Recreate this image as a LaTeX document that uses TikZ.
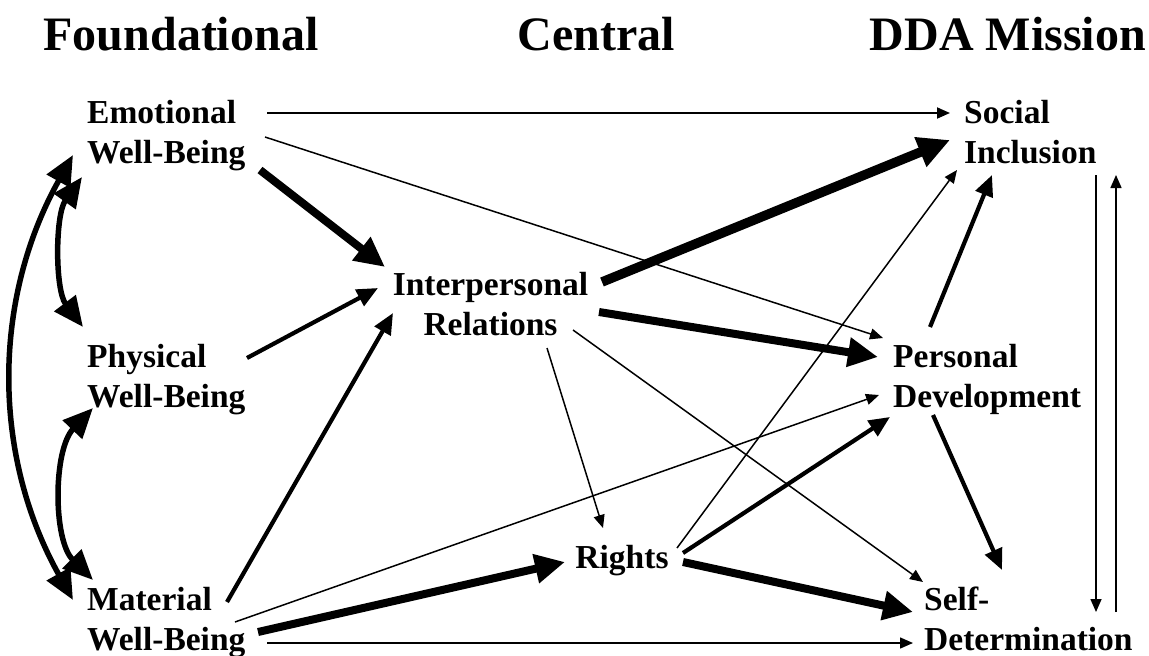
\documentclass[tikz,border=0pt]{standalone}
\usepackage{fontspec}
\setmainfont{Liberation Serif}
\usetikzlibrary{arrows.meta}
\begin{document}
\begin{tikzpicture}[x=1pt,y=-1pt,
  lbl/.style={inner sep=0pt, align=left, font=\bfseries\fontsize{33.5}{40}\selectfont},
  ttl/.style={inner sep=0pt, anchor=base, font=\bfseries\fontsize{48}{56}\selectfont},
  athin/.style={line width=1.5pt, -{Triangle[length=13pt,width=11pt]}},
  amed/.style={line width=4.2pt, -{Triangle[length=21pt,width=18pt]}},
  athick/.style={line width=8pt, -{Triangle[length=30pt,width=28pt]}},
  axthick/.style={line width=9.5pt, -{Triangle[length=32pt,width=30pt]}},
  acurve/.style={line width=5.5pt, {Triangle[length=30pt,width=26pt]}-{Triangle[length=30pt,width=26pt]}}]
\fill[white] (0,0) rectangle (1149,656);
\useasboundingbox (0,0) rectangle (1149,656);

% titles
\node[ttl] (t1) at (181,50) {Foundational};
\node[ttl] (t2) at (596,50) {Central};
\node[ttl] (t3) at (1008,50) {DDA Mission};

% nodes
\node[lbl, anchor=west] (emo) at (87,135) {\strut Emotional\\\strut Well-Being};
\node[lbl, anchor=west] (phy) at (87,379) {\strut Physical\\\strut Well-Being};
\node[lbl, anchor=west] (mat) at (87,622) {\strut Material\\\strut Well-Being};
\node[lbl, align=center] (inter) at (490.5,307) {\strut Interpersonal\\\strut Relations};
\node[lbl] (rig) at (622,560) {\strut Rights};
\node[lbl, anchor=west] (soc) at (964,135) {\strut Social\\\strut Inclusion};
\node[lbl, anchor=west] (per) at (893,379) {\strut Personal\\\strut Development};
\node[lbl, anchor=west] (sel) at (924,622) {\strut Self-\\\strut Determination};

% connectors from Emotional Well-Being
\draw[athin, line width=1.8pt] ([shift={(180,-22)}]emo.west) -- ([shift={(-14,-22)}]soc.west);
\draw[athin] ([shift={(178,2)}]emo.west) -- ([shift={(-10,-41)}]per.west);
\draw[athick] ([shift={(173,35)}]emo.west) -- ([shift={(-105.5,-40)}]inter.center);

% Physical / Material to Interpersonal
\draw[amed] ([shift={(160,-21)}]phy.west) -- ([shift={(-112.5,-19)}]inter.center);
\draw[amed] ([shift={(140,-20)}]mat.west) -- ([shift={(-97.5,6)}]inter.center);

% from Interpersonal Relations
\draw[axthick] ([shift={(111.5,-25)}]inter.center) -- ([shift={(-14,5)}]soc.west);
\draw[athick] ([shift={(108.5,5)}]inter.center) -- ([shift={(-15,-22)}]per.west);
\draw[athin] ([shift={(82.5,23)}]inter.center) -- ([shift={(-1,-40)}]sel.west);
\draw[athin] ([shift={(56.5,41)}]inter.center) -- ([shift={(-19,-32)}]rig.center);

% from Rights
\draw[athin] ([shift={(55,-12)}]rig.center) -- ([shift={(-7,35)}]soc.west);
\draw[amed] ([shift={(61,-7)}]rig.center) -- ([shift={(-3,38)}]per.west);
\draw[athick] ([shift={(61,2)}]rig.center) -- ([shift={(-11,-10)}]sel.west);

% from Material Well-Being
\draw[athick] ([shift={(171,10)}]mat.west) -- ([shift={(-57,2)}]rig.center);
\draw[athin] ([shift={(148,0)}]mat.west) -- ([shift={(-14,16)}]per.west);
\draw[athin] ([shift={(180,21)}]mat.west) -- ([shift={(-11,21)}]sel.west);

% from Personal Development
\draw[amed] ([shift={(37,-52)}]per.west) -- ([shift={(28,40)}]soc.west);
\draw[amed] ([shift={(40,36)}]per.west) -- ([shift={(78,-52)}]sel.west);

% right-hand vertical pair
\draw[athin] ([shift={(132,40)}]soc.west) -- ([shift={(172,-10)}]sel.west);
\draw[athin] ([shift={(192,-10)}]sel.west) -- ([shift={(152,40)}]soc.west);

% left-hand curved double arrows
\draw[acurve] ([shift={(-5,42)}]emo.west) .. controls ([shift={(-32,80)}]emo.west) and ([shift={(-32,-89)}]phy.west) .. ([shift={(-4,-52)}]phy.west);
\draw[acurve] ([shift={(6,29)}]phy.west) .. controls ([shift={(-34,71)}]phy.west) and ([shift={(-34,-82)}]mat.west) .. ([shift={(6,-42)}]mat.west);
\draw[acurve] ([shift={(-14,20)}]emo.west) .. controls ([shift={(-95,165)}]emo.west) and ([shift={(-95,-167)}]mat.west) .. ([shift={(-14,-22)}]mat.west);
\end{tikzpicture}
\end{document}
